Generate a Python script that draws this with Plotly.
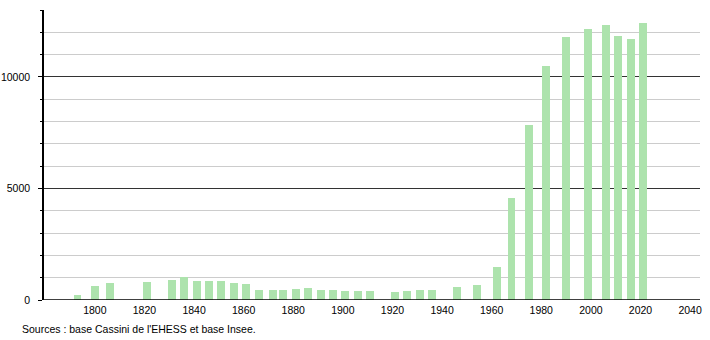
import plotly.graph_objects as go

years = [1793, 1800, 1806, 1821, 1831, 1836, 1841, 1846, 1851, 1856, 1861, 1866,
         1872, 1876, 1881, 1886, 1891, 1896, 1901, 1906, 1911, 1921, 1926, 1931,
         1936, 1946, 1954, 1962, 1968, 1975, 1982, 1990, 1999, 2006, 2011, 2016, 2021]
population = [230, 640, 750, 820, 900, 1050, 860, 860, 860, 750, 720, 450,
              450, 450, 500, 525, 450, 450, 405, 405, 405, 375, 405, 450,
              450, 570, 675, 1470, 4580, 7840, 10480, 11790, 12150, 12340, 11850, 11710, 12430]
x_ticks = [1800, 1820, 1840, 1860, 1880, 1900, 1920, 1940, 1960, 1980, 2000, 2020, 2040]
y_ticks = [0, 5000, 10000]
source_text = "Sources : base Cassini de l'EHESS et base Insee."

font_family = "Liberation Sans, Arial, sans-serif"

fig = go.Figure()
fig.add_trace(go.Bar(
    x=years, y=population, width=3.2,
    marker=dict(color="#ade3ad", line=dict(width=0)),
    hoverinfo="x+y",
))

fig.update_layout(
    width=710, height=340,
    margin=dict(l=44, r=10, t=10, b=40, autoexpand=False),
    paper_bgcolor="white", plot_bgcolor="white",
    showlegend=False,
    font=dict(family=font_family, size=10.5, color="black"),
    bargap=0,
    xaxis=dict(
        range=[1779.5, 2044], tickvals=x_ticks, ticktext=[str(v) for v in x_ticks],
        showgrid=False, zeroline=False, showline=False, ticks="",
        ticklabelstandoff=2, automargin=False,
        tickfont=dict(size=10.5),
    ),
    yaxis=dict(
        range=[0, 13000], tickvals=y_ticks, ticktext=[str(v) for v in y_ticks],
        showgrid=True, gridcolor="#333333", gridwidth=1,
        zeroline=False, showline=True, linecolor="black", linewidth=1.5,
        ticks="outside", ticklen=4, tickcolor="black", tickwidth=1,
        ticklabelstandoff=6, automargin=False,
        minor=dict(dtick=1000, showgrid=True, gridcolor="#cccccc", gridwidth=1,
                   ticks="outside", ticklen=2, tickcolor="black"),
        tickfont=dict(size=10.5),
    ),
    shapes=[dict(type="line", xref="paper", yref="y", x0=0, x1=1, y0=0, y1=0,
                 line=dict(color="black", width=1.5))],
    annotations=[dict(text=source_text, xref="paper", yref="paper",
                      x=-24/656, y=-29/290, xanchor="left", yanchor="middle",
                      showarrow=False, font=dict(size=10.5, family=font_family))],
)

fig.write_html("out.html")
